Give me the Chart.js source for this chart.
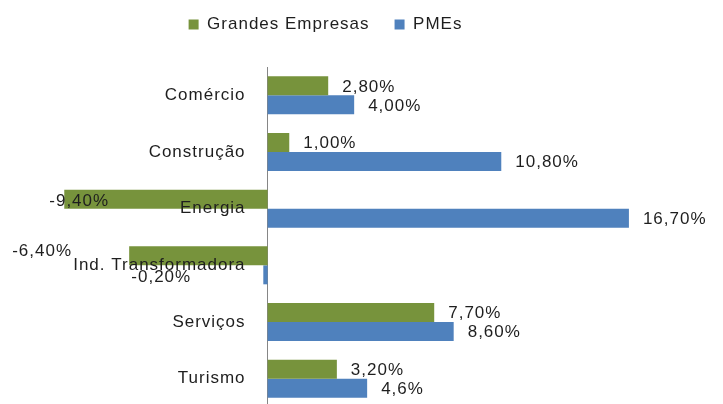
<!DOCTYPE html>
<html>
<head>
<meta charset="utf-8">
<title>Grandes Empresas vs PMEs</title>
<script src="https://cdn.jsdelivr.net/npm/chart.js@4.4.1/dist/chart.umd.min.js"></script>
<style>
    html, body { margin: 0; padding: 0; background: #fff; overflow: hidden; }
    #wrap { width: 723px; height: 412px; position: relative; }
</style>
</head>
<body>
<div id="wrap"><canvas id="sectorChart"></canvas></div>
<script>
const categories = ['Comércio', 'Construção', 'Energia', 'Ind. Transformadora', 'Serviços', 'Turismo'];
const grandesEmpresas = [2.8, 1.0, -9.4, -6.4, 7.7, 3.2];
const pmes = [4.0, 10.8, 16.7, -0.2, 8.6, 4.6];
const grandesLabels = ['2,80%', '1,00%', '-9,40%', '-6,40%', '7,70%', '3,20%'];
const pmesLabels = ['4,00%', '10,80%', '16,70%', '-0,20%', '8,60%', '4,6%'];

const textColor = '#1e1e1e';
Chart.defaults.font.family = '"Liberation Sans", Arial, sans-serif';
Chart.defaults.font.size = 17;
Chart.defaults.color = textColor;

// the original text is a bit spaced out
const letterSpacing = {
    id: 'letterSpacing',
    beforeLayout(chart) { chart.ctx.letterSpacing = '1px'; },
    beforeDraw(chart) { chart.ctx.letterSpacing = '1px'; }
};

// room between legend and plot
const legendSpacer = {
    id: 'legendSpacer',
    beforeInit(chart) {
        const fit = chart.legend.fit;
        chart.legend.fit = function () {
            fit.bind(chart.legend)();
            this.height += 24;
        };
    }
};

// value labels next to the bar ends; a few were moved by hand in the original
const valueLabels = {
    id: 'valueLabels',
    afterDatasetsDraw(chart, args, opts) {
        const ctx = chart.ctx;
        ctx.save();
        ctx.font = '17px "Liberation Sans", Arial, sans-serif';
        ctx.fillStyle = textColor;
        ctx.textAlign = 'left';
        ctx.textBaseline = 'middle';
        chart.data.datasets.forEach((ds, di) => {
            chart.getDatasetMeta(di).data.forEach((bar, i) => {
                const nudge = opts.nudges[di + '-' + i] || opts.standard;
                ctx.fillText(ds.valueLabels[i], bar.x + nudge[0], bar.y + nudge[1]);
            });
        });
        ctx.restore();
    }
};

// axes sitting on the zero line should not take layout room
function flatten(scale) {
    scale.width = 0;
    scale.paddingTop = 0;
    scale.paddingBottom = 0;
}

new Chart(document.getElementById('sectorChart'), {
    type: 'bar',
    data: {
        labels: categories,
        datasets: [{
            label: 'Grandes Empresas',
            data: grandesEmpresas,
            valueLabels: grandesLabels,
            yAxisID: 'y',
            backgroundColor: '#77933C',
            borderWidth: 0
        }, {
            label: 'PMEs',
            data: pmes,
            valueLabels: pmesLabels,
            yAxisID: 'y',
            backgroundColor: '#4F81BD',
            borderWidth: 0
        }]
    },
    options: {
        indexAxis: 'y',
        responsive: true,
        maintainAspectRatio: false,
        animation: false,
        events: [],
        categoryPercentage: 0.67,
        barPercentage: 1.0,
        layout: { padding: { left: 21, right: 93, top: -9, bottom: 5 } },
        scales: {
            x: { display: false, min: -11.4, max: 16.75 },
            y: {
                position: { x: 0 },
                grid: { display: false, drawTicks: false },
                border: { display: true, color: '#868686', width: 1 },
                ticks: { display: false },
                afterFit: flatten
            },
            // category names, right-aligned a little left of the zero line, drawn over the bars
            yLabels: {
                type: 'category',
                labels: categories,
                offset: true,
                position: { x: -1.02 },
                grid: { display: false, drawTicks: false },
                border: { display: false },
                ticks: { padding: 0, z: 1, color: textColor, font: { size: 17 } },
                afterFit: flatten
            }
        },
        plugins: {
            legend: {
                position: 'top',
                labels: { boxWidth: 10, boxHeight: 10, padding: 25, color: textColor, font: { size: 17 } }
            },
            tooltip: { enabled: false },
            valueLabels: {
                standard: [14, 1],
                nudges: { '0-2': [-15, 2], '0-3': [-117, -5], '1-3': [-132, 2] }
            }
        }
    },
    plugins: [letterSpacing, legendSpacer, valueLabels]
});
</script>
</body>
</html>
